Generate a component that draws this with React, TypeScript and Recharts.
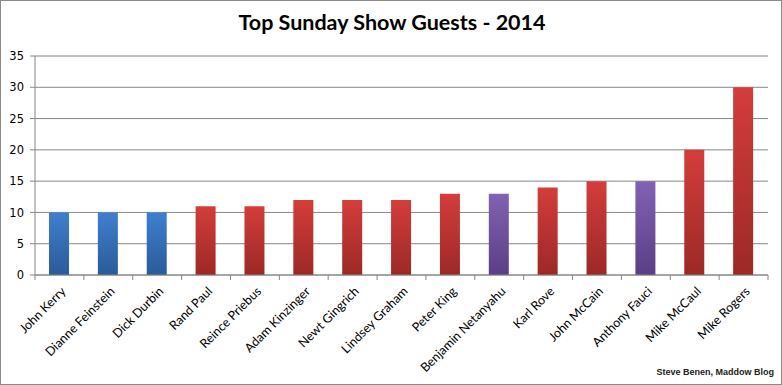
import React from "react"
import {
  Bar,
  BarChart,
  CartesianGrid,
  Cell,
  XAxis,
  YAxis,
} from "recharts"

const guests = [
  "John Kerry",
  "Dianne Feinstein",
  "Dick Durbin",
  "Rand Paul",
  "Reince Priebus",
  "Adam Kinzinger",
  "Newt Gingrich",
  "Lindsey Graham",
  "Peter King",
  "Benjamin Netanyahu",
  "Karl Rove",
  "John McCain",
  "Anthony Fauci",
  "Mike McCaul",
  "Mike Rogers",
]
const appearances = [10, 10, 10, 11, 11, 12, 12, 12, 13, 13, 14, 15, 15, 20, 30]
const party = ["D", "D", "D", "R", "R", "R", "R", "R", "R", "O", "R", "R", "O", "R", "R"]
const yTicks = [0, 5, 10, 15, 20, 25, 30, 35]

const data = guests.map((name, i) => ({ name, value: appearances[i], party: party[i] }))

const fillFor: Record<string, string> = {
  D: "url(#gradBlue)",
  R: "url(#gradRed)",
  O: "url(#gradPurple)",
}

// label rotated like Excel, plus tick marks on the category boundaries
const NameTick = (props: any) => {
  const { x, y, payload, index, width, visibleTicksCount } = props
  const half =
    width && visibleTicksCount ? width / visibleTicksCount / 2 : payload.offset || 0
  const isLast = index === visibleTicksCount - 1
  return (
    <g>
      <line x1={x - half} x2={x - half} y1={y} y2={y + 5} stroke="#868686" />
      {isLast && (
        <line x1={x + half} x2={x + half} y1={y} y2={y + 5} stroke="#868686" />
      )}
      <g transform={`translate(${x + 4},${y + 14})`}>
        <text
          transform="rotate(-45)"
          textAnchor="end"
          dy="0.35em"
          fontFamily="Lato"
          fontSize={12.5}
          fill="#000"
        >
          {payload.value}
        </text>
      </g>
    </g>
  )
}

export default function App() {
  return (
    <div
      style={{
        position: "absolute",
        left: 0,
        top: 0,
        width: 782,
        height: 385,
        boxSizing: "border-box",
        border: "1px solid #8a8a8a",
        background: "#fff",
      }}
    >
      <div
        style={{
          position: "absolute",
          left: 0,
          top: 8,
          width: 782,
          textAlign: "center",
          fontFamily: "Lato",
          fontWeight: 700,
          fontSize: 21.5,
          color: "#000",
        }}
      >
        Top Sunday Show Guests - 2014
      </div>
      <div
        style={{
          position: "absolute",
          right: 7,
          top: 366,
          fontFamily: "Liberation Sans",
          fontWeight: 700,
          fontSize: 9,
          color: "#222",
        }}
      >
        Steve Benen, Maddow Blog
      </div>
      <BarChart
        width={781}
        height={384}
        data={data}
        margin={{ top: 55, right: 14, bottom: 0, left: -1 }}
        style={{ position: "absolute", left: 0, top: 0 }}
      >
        <defs>
          <linearGradient id="gradBlue" x1="0" y1="0" x2="0" y2="1">
            <stop offset="0%" stopColor="#3f7fd0" />
            <stop offset="100%" stopColor="#2b5b98" />
          </linearGradient>
          <linearGradient id="gradRed" x1="0" y1="0" x2="0" y2="1">
            <stop offset="0%" stopColor="#d33d3b" />
            <stop offset="100%" stopColor="#9c2927" />
          </linearGradient>
          <linearGradient id="gradPurple" x1="0" y1="0" x2="0" y2="1">
            <stop offset="0%" stopColor="#8262b3" />
            <stop offset="100%" stopColor="#5a3e85" />
          </linearGradient>
        </defs>
        <CartesianGrid vertical={false} stroke="#868686" />
        <XAxis
          dataKey="name"
          interval={0}
          height={110}
          tickSize={0}
          tickMargin={0}
          tick={<NameTick />}
          tickLine={false}
          axisLine={{ stroke: "#868686" }}
        />
        <YAxis
          domain={[0, 35]}
          ticks={yTicks}
          width={35}
          tickSize={5}
          tickMargin={6}
          axisLine={{ stroke: "#868686" }}
          tickLine={{ stroke: "#868686" }}
          tick={{ fontFamily: "DejaVu Sans", fontSize: 11.5, fill: "#000" }}
        />
        <Bar dataKey="value" barSize={20} isAnimationActive={false}>
          {data.map((d, i) => (
            <Cell key={i} fill={fillFor[d.party]} />
          ))}
        </Bar>
      </BarChart>
    </div>
  )
}
